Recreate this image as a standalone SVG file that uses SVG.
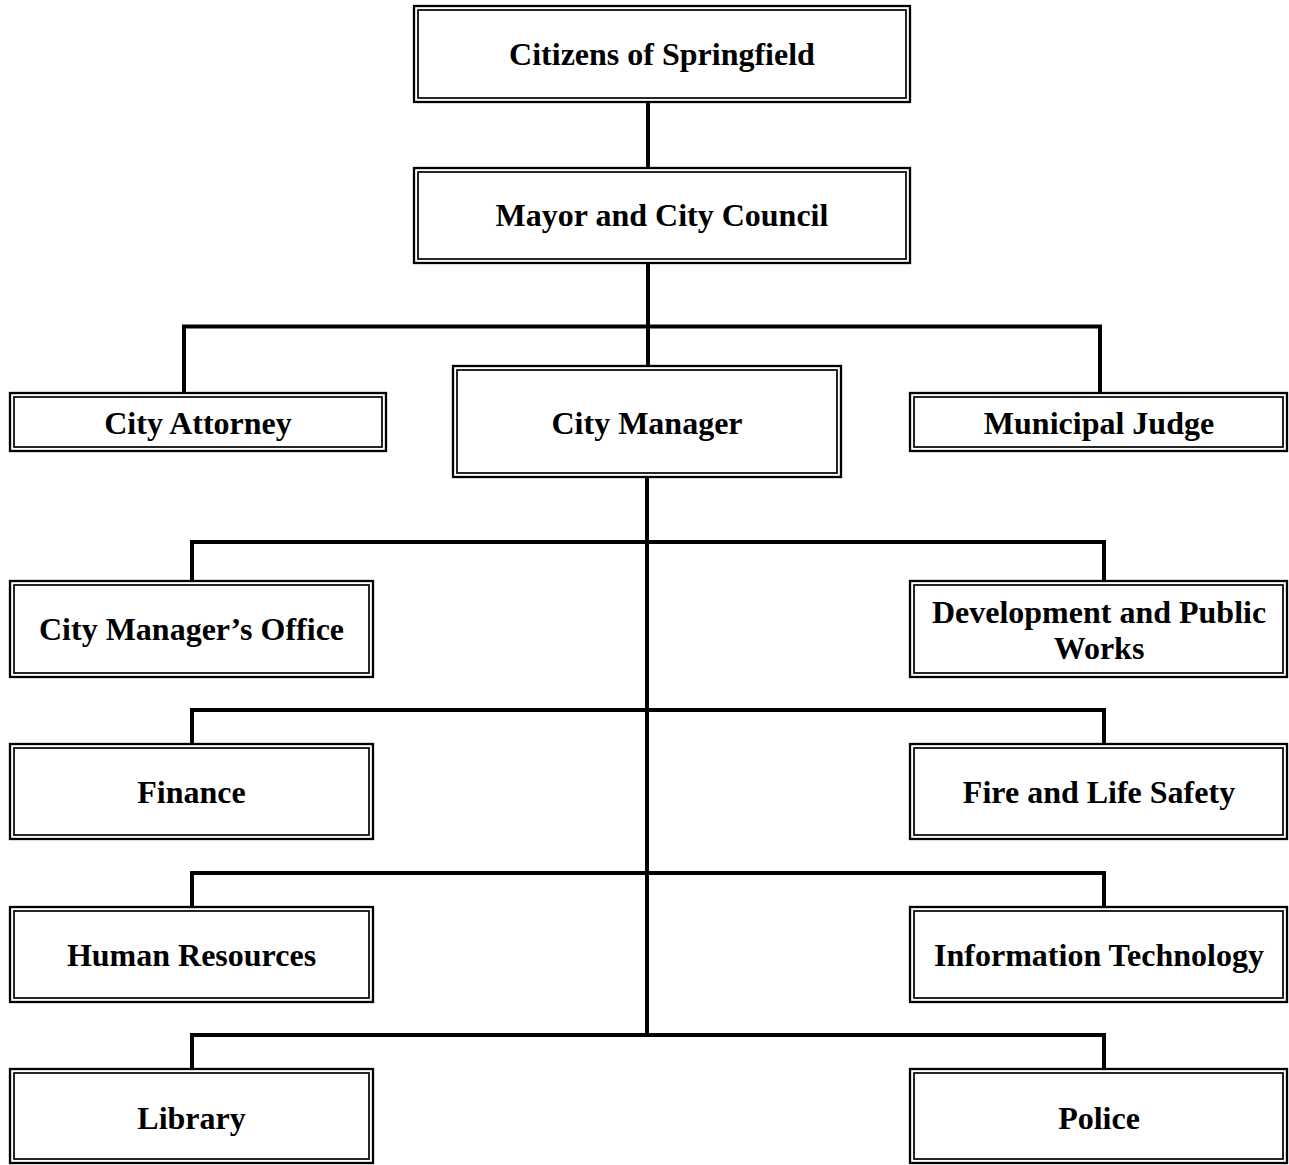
<svg xmlns="http://www.w3.org/2000/svg" width="1289" height="1165" viewBox="0 0 1289 1165">
<style>
.o{fill:#fff;stroke:#000;stroke-width:2.3}
.i{fill:none;stroke:#000;stroke-width:1.7}
.t{font-family:"Liberation Serif","Times New Roman",serif;font-weight:bold;font-size:32px;fill:#000;text-anchor:middle}
.c{fill:none;stroke:#000;stroke-width:4;stroke-linejoin:miter}
</style>
<rect width="1289" height="1165" fill="#fff"/>
<g id="connectors">
<path class="c" d="M648,103 V167"/>
<path class="c" d="M648,264 V365"/>
<path class="c" d="M184,392 V326.5 H1100 V392"/>
<path class="c" d="M647,478 V1035"/>
<path class="c" d="M192,580 V542 H1104 V580"/>
<path class="c" d="M192,743 V710 H1104 V743"/>
<path class="c" d="M192,906 V873 H1104 V906"/>
<path class="c" d="M192,1068 V1035 H1104 V1068"/>
</g>
<g id="citizens">
<rect class="o" x="414" y="6" width="496" height="96"/>
<rect class="i" x="418" y="10" width="488" height="88"/>
<text class="t" x="662" y="65">Citizens of Springfield</text>
</g>
<g id="mayor">
<rect class="o" x="414" y="168" width="496" height="95"/>
<rect class="i" x="418" y="172" width="488" height="87"/>
<text class="t" x="662" y="226">Mayor and City Council</text>
</g>
<g id="attorney">
<rect class="o" x="10" y="393" width="376" height="58"/>
<rect class="i" x="14" y="397" width="368" height="50"/>
<text class="t" x="198" y="434">City Attorney</text>
</g>
<g id="manager">
<rect class="o" x="453" y="366" width="388" height="111"/>
<rect class="i" x="457" y="370" width="380" height="103"/>
<text class="t" x="647" y="434">City Manager</text>
</g>
<g id="judge">
<rect class="o" x="910" y="393" width="377" height="58"/>
<rect class="i" x="914" y="397" width="369" height="50"/>
<text class="t" x="1099" y="434">Municipal Judge</text>
</g>
<g id="cmo">
<rect class="o" x="10" y="581" width="363" height="96"/>
<rect class="i" x="14" y="585" width="355" height="88"/>
<text class="t" x="191.5" y="640">City Manager’s Office</text>
</g>
<g id="dpw">
<rect class="o" x="910" y="581" width="377" height="96"/>
<rect class="i" x="914" y="585" width="369" height="88"/>
<text class="t" x="1099" y="623">Development and Public</text>
<text class="t" x="1099" y="659">Works</text>
</g>
<g id="finance">
<rect class="o" x="10" y="744" width="363" height="95"/>
<rect class="i" x="14" y="748" width="355" height="87"/>
<text class="t" x="191.5" y="803">Finance</text>
</g>
<g id="fire">
<rect class="o" x="910" y="744" width="377" height="95"/>
<rect class="i" x="914" y="748" width="369" height="87"/>
<text class="t" x="1099" y="803">Fire and Life Safety</text>
</g>
<g id="hr">
<rect class="o" x="10" y="907" width="363" height="95"/>
<rect class="i" x="14" y="911" width="355" height="87"/>
<text class="t" x="191.5" y="966">Human Resources</text>
</g>
<g id="it">
<rect class="o" x="910" y="907" width="377" height="95"/>
<rect class="i" x="914" y="911" width="369" height="87"/>
<text class="t" x="1099" y="966">Information Technology</text>
</g>
<g id="library">
<rect class="o" x="10" y="1069" width="363" height="94"/>
<rect class="i" x="14" y="1073" width="355" height="86"/>
<text class="t" x="191.5" y="1129">Library</text>
</g>
<g id="police">
<rect class="o" x="910" y="1069" width="377" height="94"/>
<rect class="i" x="914" y="1073" width="369" height="86"/>
<text class="t" x="1099" y="1129">Police</text>
</g>
</svg>
